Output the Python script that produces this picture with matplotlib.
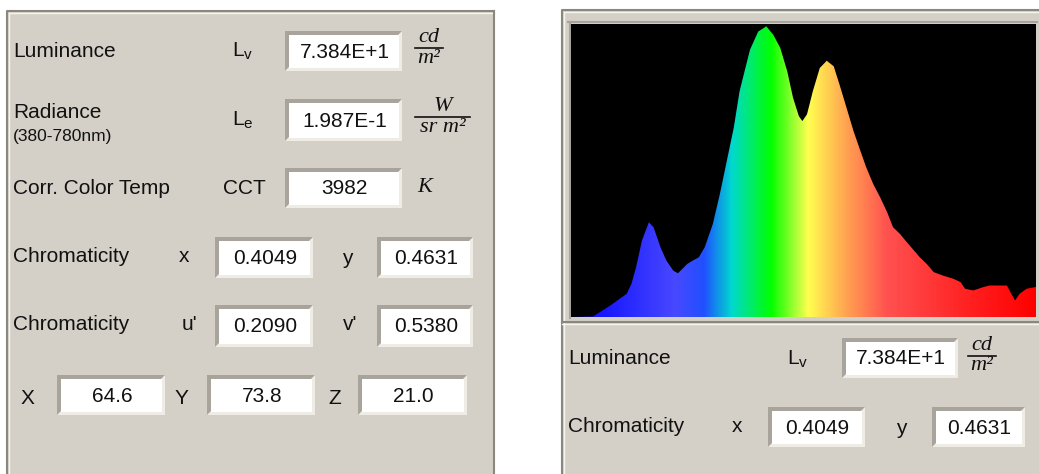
import matplotlib.pyplot as plt
import numpy as np
from matplotlib.colors import LinearSegmentedColormap
from matplotlib.patches import Rectangle, Polygon

plt.rcParams['font.family'] = ['Liberation Sans', 'DejaVu Sans']

W, H = 1039, 474

# spectrum (nm, % of peak)
wavelength = [380, 399, 414, 428, 432, 436, 441, 447, 451, 457, 462, 468, 472, 480,
              485, 490, 495, 502, 508, 514, 520, 525, 530, 534, 541, 548, 554, 560,
              566, 571, 576, 579, 583, 588, 594, 600, 606, 611, 617, 623, 629, 634,
              640, 646, 652, 657, 663, 669, 674, 680, 686, 692, 700, 709, 715, 719,
              726, 735, 740, 755, 758, 762, 766, 772, 780]
intensity = [0, 0.2, 4.0, 8.0, 11.4, 17.1, 26.2, 32.5, 30.8, 23.9, 19.4, 15.9, 15.0, 18.2,
             19.4, 20.5, 23.9, 31.9, 42.1, 53.5, 64.9, 77.4, 85.4, 91.7, 97.9, 99.7, 96.8, 92.3,
             84.3, 75.2, 68.9, 67.2, 69.5, 77.4, 85.4, 87.9, 86.0, 79.7, 71.8, 63.8, 56.9, 51.3,
             45.6, 41.0, 35.9, 30.8, 28.5, 25.6, 23.3, 20.5, 18.2, 15.4, 14.2, 13.1, 12.0, 9.7,
             9.1, 10.3, 10.8, 10.8, 8.5, 5.7, 8.0, 9.7, 10.3]

# measured values
luminance = '7.384E+1'
radiance = '1.987E-1'
cct = '3982'
chroma_xy = ['0.4049', '0.4631']
chroma_uv = ['0.2090', '0.5380']
tristim = ['64.6', '73.8', '21.0']

# rainbow fill colours
spec_nm = [380, 408, 469, 494, 518, 552, 584, 618, 653, 724, 780]
spec_col = ['#1010ff', '#1818ff', '#4848ff', '#2050ff', '#00d8d0', '#00ff00',
            '#ffff50', '#ffa050', '#ff5050', '#ff2020', '#ff0000']

GRAY = '#d4d0c8'
DARK = '#8a877f'
LIGHT = '#f6f4ef'

fig = plt.figure(figsize=(W / 100, H / 100), dpi=100)
fig.patch.set_facecolor('white')
ui = fig.add_axes([0, 0, 1, 1])
ui.set_xlim(0, W)
ui.set_ylim(H, 0)
ui.axis('off')


def panel(x0, y0, x1, y1):
    ui.add_patch(Rectangle((x0, y0), x1 - x0, y1 - y0, fc=GRAY, ec='none'))
    ui.plot([x0, x0, x1], [y1, y0, y0], color=DARK, lw=1.5)
    ui.plot([x0 + 1.5, x0 + 1.5, x1], [y1, y0 + 1.5, y0 + 1.5], color=LIGHT, lw=1)
    ui.plot([x1, x1], [y0, y1], color=DARK, lw=1.5)


def edit_box(x0, y0, x1, y1, txt):
    ui.add_patch(Rectangle((x0, y0), x1 - x0, y1 - y0, fc='#efece5', ec='none'))
    ui.add_patch(Polygon([(x0, y1), (x0, y0), (x1, y0), (x1 - 4, y0 + 4),
                          (x0 + 4, y0 + 4), (x0 + 4, y1 - 4)], fc='#a8a49b', ec='none'))
    ui.add_patch(Rectangle((x0 + 4, y0 + 4), x1 - x0 - 7, y1 - y0 - 7, fc='white', ec='none'))
    ui.text((x0 + x1) / 2 + 1, (y0 + y1) / 2 + 1, txt, fontsize=15, ha='center', va='center',
            color='#111111')


def label(x, y, txt, size=15):
    ui.text(x, y, txt, fontsize=size, ha='left', va='center', color='#111111')


def symbol(x, y, main, sub):
    ui.text(x, y, main, fontsize=15, ha='left', va='center', color='#111111')
    ui.text(x + 11.5, y + 5, sub, fontsize=11, ha='left', va='center', color='#111111')


def fraction(x, y, top, bottom, width):
    kw = dict(family='Liberation Serif', style='italic', color='#111111', ha='center')
    ui.text(x + width / 2, y - 1, top, fontsize=16, va='bottom', **kw)
    ui.plot([x, x + width], [y, y], color='#111111', lw=1.2)
    ui.text(x + width / 2, y + 0.5, bottom, fontsize=16, va='top', **kw)


# left panel
panel(7, 11, 494, H + 5)
label(13, 51, 'Luminance')
symbol(232, 50, 'L', 'v')
edit_box(285, 31, 402, 71, luminance)
fraction(415, 48, 'cd', 'm²', 28)

label(13, 112, 'Radiance')
label(13, 136, '(380-780nm)', size=12.5)
symbol(232, 119, 'L', 'e')
edit_box(285, 99, 402, 141, radiance)
fraction(415, 117, 'W', 'sr m²', 55)

label(13, 188, 'Corr. Color Temp')
label(223, 188, 'CCT')
edit_box(285, 168, 402, 208, cct)
ui.text(417, 188, 'K', fontsize=16, family='Liberation Serif', style='italic',
        ha='left', va='center', color='#111111')

label(13, 257, 'Chromaticity')
label(179, 257, 'x')
edit_box(215, 237, 313, 278, chroma_xy[0])
label(342, 258, 'y')
edit_box(377, 237, 473, 278, chroma_xy[1])

label(13, 325, 'Chromaticity')
label(182, 325, "u'")
edit_box(215, 305, 313, 347, chroma_uv[0])
label(343, 325, "v'")
edit_box(377, 305, 473, 347, chroma_uv[1])

label(21, 398, 'X')
edit_box(57, 375, 165, 415, tristim[0])
label(175, 398, 'Y')
edit_box(207, 375, 315, 415, tristim[1])
label(328, 398, 'Z')
edit_box(358, 375, 467, 415, tristim[2])

# right panel
panel(562, 10, W + 5, H + 5)
ui.plot([562, W], [322, 322], color=DARK, lw=1.5)
ui.plot([562, W], [323.5, 323.5], color=LIGHT, lw=1)
ui.plot([568, 1037], [22, 22], color='#a8a49b', lw=1.5)
ui.plot([569.5, 569.5], [22, 318], color='#a8a49b', lw=1.5)

label(568, 358, 'Luminance')
symbol(787, 358, 'L', 'v')
edit_box(842, 338, 958, 378, luminance)
fraction(968, 356, 'cd', 'm²', 28)

label(568, 427, 'Chromaticity')
label(732, 427, 'x')
edit_box(768, 407, 865, 447, chroma_xy[0])
label(896, 428, 'y')
edit_box(932, 407, 1025, 447, chroma_xy[1])

# spectrum
ax = fig.add_axes([571 / W, 1 - 317 / H, 465 / W, 293 / H])
ax.set_facecolor('black')
ax.set_xlim(380, 780)
ax.set_ylim(0, 100.5)
ax.set_xticks([])
ax.set_yticks([])
for s in ax.spines.values():
    s.set_visible(False)

pos = [(n - 380) / 400 for n in spec_nm]
cmap = LinearSegmentedColormap.from_list('spec', list(zip(pos, spec_col)))
grad = np.linspace(0, 1, 800).reshape(1, -1)
fill = ax.fill_between(wavelength, 0, intensity, color='none', lw=0)
im = ax.imshow(grad, cmap=cmap, aspect='auto', extent=[380, 780, 0, 100.5],
               interpolation='bilinear')
im.set_clip_path(fill.get_paths()[0], transform=ax.transData)

fig.savefig('out.png', dpi=100)
